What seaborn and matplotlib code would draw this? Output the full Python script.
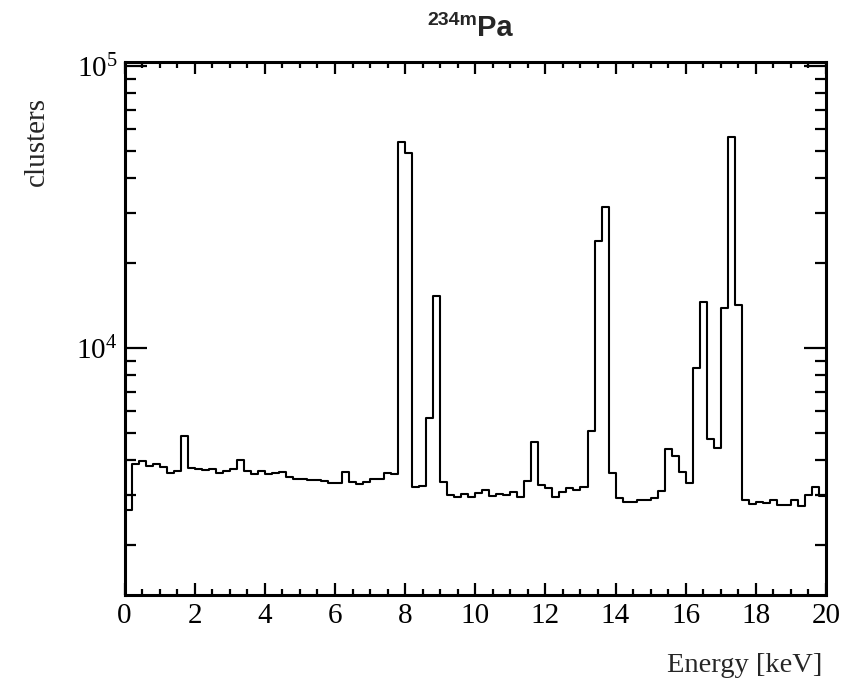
import numpy as np
import pandas as pd
import matplotlib
matplotlib.use('Agg')
import matplotlib.pyplot as plt
import matplotlib.ticker as mticker
import seaborn as sns

# ── Datos: espectro 234mPa, bins de 0.2 keV entre 0 y 20 keV ──────────────
e_min, e_max, n_bins = 0.0, 20.0, 100
counts = [
    2665, 3880, 3975, 3820, 3880, 3795, 3597, 3664, 4873, 3740,
    3720, 3690, 3710, 3597, 3664, 3720, 4000, 3675, 3565, 3664,
    3575, 3600, 3620, 3500, 3422, 3422, 3404, 3404, 3390, 3313,
    3313, 3622, 3357, 3282, 3357, 3428, 3428, 3597, 3580, 53600,
    49000, 3223, 3249, 5665, 15330, 3357, 3013, 2973, 3035, 2973,
    3055, 3134, 2990, 3025, 3013, 3078, 2973, 3383, 4635, 3266,
    3177, 2973, 3090, 3177, 3130, 3206, 5092, 23900, 31700, 3600,
    2931, 2851, 2851, 2900, 2900, 2940, 3118, 4374, 4152, 3622,
    3327, 8514, 14560, 4748, 4403, 13820, 56000, 14200, 2880, 2800,
    2851, 2830, 2880, 2769, 2785, 2880, 2755, 3013, 3206, 2990,
]
bin_w = (e_max - e_min) / n_bins
energy = np.linspace(e_min + bin_w / 2, e_max - bin_w / 2, n_bins)
df = pd.DataFrame({'energy': energy, 'clusters': counts})

y_lim = (1331, 1.029e5)

# ── Estilo tipo ROOT ─────────────────────────────────────────────────────
sns.set_style('white')
plt.rcParams['font.family'] = ['Liberation Serif', 'DejaVu Serif']
plt.rcParams['mathtext.fontset'] = 'custom'
plt.rcParams['mathtext.rm'] = 'Liberation Serif'
plt.rcParams['mathtext.it'] = 'Liberation Serif:italic'

fig = plt.figure(figsize=(8.42, 6.83), dpi=100)
ax = fig.add_axes([0.1479, 0.1288, 0.8331, 0.7797])

sns.histplot(data=df, x='energy', weights='clusters', bins=n_bins,
             binrange=(e_min, e_max), element='step', fill=False,
             color='black', linewidth=1.5, ax=ax)

ax.set_yscale('log')
ax.set_xlim(e_min, e_max)
ax.set_ylim(*y_lim)

ax.xaxis.set_major_locator(mticker.MultipleLocator(2))
ax.xaxis.set_minor_locator(mticker.MultipleLocator(0.5))
ax.yaxis.set_major_locator(mticker.LogLocator(base=10))
ax.yaxis.set_minor_locator(mticker.LogLocator(base=10, subs=np.arange(2, 10)))
ax.yaxis.set_minor_formatter(mticker.NullFormatter())

for sp in ax.spines.values():
    sp.set_linewidth(2.2); sp.set_color('black')
ax.tick_params(which='both', direction='in', top=True, right=True,
               bottom=True, left=True, width=1.6, colors='black', labelsize=21)
ax.tick_params(axis='x', which='major', length=8.6, pad=6)
ax.tick_params(axis='x', which='minor', length=4.3)
ax.tick_params(axis='y', which='major', length=16, pad=5)
ax.tick_params(axis='y', which='minor', length=8)

ax.set_xlabel('Energy [keV]', fontsize=20.5, loc='right')
ax.xaxis.set_label_coords(0.995, -0.108)
ax.set_ylabel('clusters', fontsize=21, loc='top')
ax.yaxis.set_label_coords(-0.107, 0.935)

# título: superíndice + símbolo
fig.text(427.0 / 842, 1 - 25 / 683, '234m', family='Liberation Sans',
         fontweight='bold', fontsize=14, ha='left', va='baseline')
fig.text(477.0 / 842, 1 - 36 / 683, 'Pa', family='Liberation Sans',
         fontweight='bold', fontsize=21, ha='left', va='baseline')

plt.savefig('out.png', dpi=100, facecolor='white')
plt.close()
